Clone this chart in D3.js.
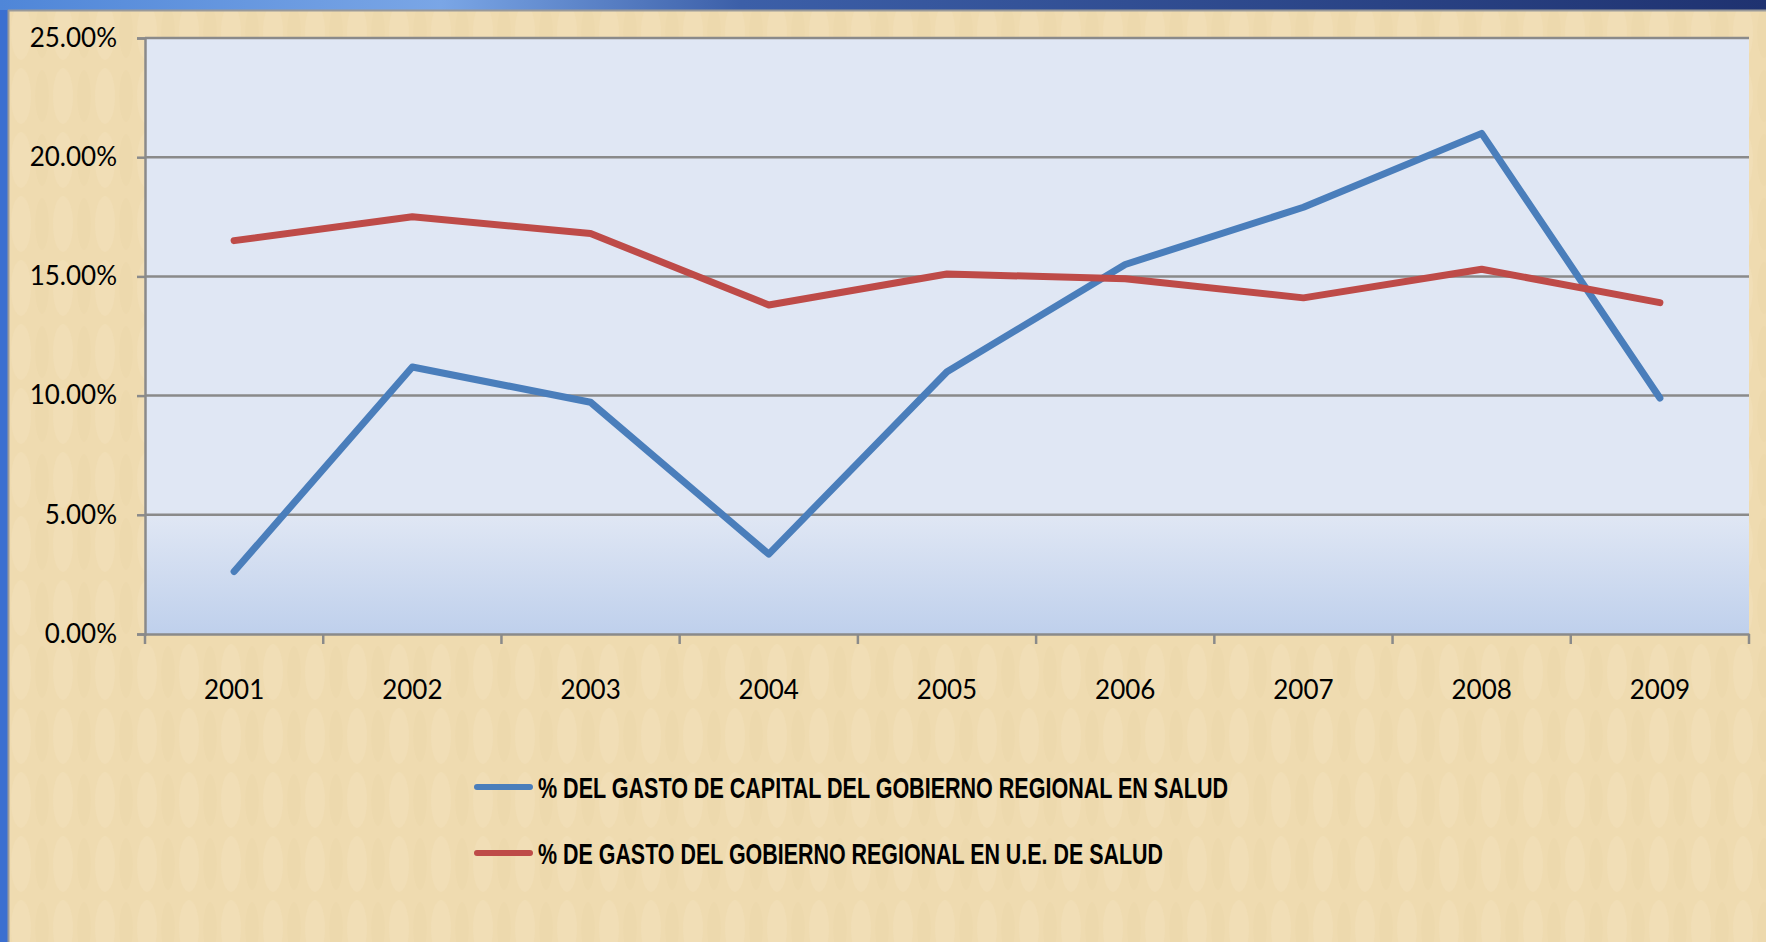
<!DOCTYPE html>
<html>
<head>
<meta charset="utf-8">
<script src="https://cdn.jsdelivr.net/npm/d3@7"></script>
<style>
  body { margin: 0; overflow: hidden; background: #efdcb0; }
  svg { display: block; }
</style>
</head>
<body>
<svg width="1766" height="942"></svg>
<script>
// data
var years = ["2001", "2002", "2003", "2004", "2005", "2006", "2007", "2008", "2009"];
var capitalSalud = [0.0262, 0.112, 0.0972, 0.0335, 0.110, 0.155, 0.179, 0.210, 0.099];
var gastoUESalud = [0.165, 0.175, 0.168, 0.138, 0.151, 0.149, 0.141, 0.153, 0.139];
var yTicks = [0, 0.05, 0.10, 0.15, 0.20, 0.25];
var seriesNames = ["% DEL GASTO DE CAPITAL DEL  GOBIERNO REGIONAL EN SALUD",
                   "% DE GASTO DEL GOBIERNO REGIONAL EN U.E. DE SALUD"];
var seriesColors = ["#4a7ebb", "#be4b48"];

var svg = d3.select("svg");
var defs = svg.append("defs");

// parchment texture
var pat = defs.append("pattern")
  .attr("id", "paper")
  .attr("patternUnits", "userSpaceOnUse")
  .attr("width", 42).attr("height", 64);
pat.append("rect").attr("width", 42).attr("height", 64).attr("fill", "#efdbb0");
pat.append("ellipse").attr("cx", 21).attr("cy", 32).attr("rx", 10).attr("ry", 28)
  .attr("fill", "#f4e3c0").attr("opacity", 0.35);
pat.append("ellipse").attr("cx", 0).attr("cy", 32).attr("rx", 7).attr("ry", 26)
  .attr("fill", "#e8d2a3").attr("opacity", 0.25);
pat.append("ellipse").attr("cx", 42).attr("cy", 32).attr("rx", 7).attr("ry", 26)
  .attr("fill", "#e8d2a3").attr("opacity", 0.25);

var topGrad = defs.append("linearGradient").attr("id", "topbar");
topGrad.append("stop").attr("offset", "0%").attr("stop-color", "#4f86d8");
topGrad.append("stop").attr("offset", "25%").attr("stop-color", "#7aa6e6");
topGrad.append("stop").attr("offset", "42%").attr("stop-color", "#3c5fa8");
topGrad.append("stop").attr("offset", "100%").attr("stop-color", "#1f3270");

var plotGrad = defs.append("linearGradient").attr("id", "plotbg")
  .attr("x1", 0).attr("y1", 0).attr("x2", 0).attr("y2", 1);
plotGrad.append("stop").attr("offset", "0%").attr("stop-color", "#e0e7f4");
plotGrad.append("stop").attr("offset", "80%").attr("stop-color", "#e0e7f4");
plotGrad.append("stop").attr("offset", "100%").attr("stop-color", "#bfd0ec");

// window background pieces
svg.append("rect").attr("width", 1766).attr("height", 942).attr("fill", "#3b6fd0");
svg.append("rect").attr("width", 1766).attr("height", 10).attr("fill", "url(#topbar)");
svg.append("rect").attr("x", 8).attr("y", 10).attr("width", 1758).attr("height", 932)
  .attr("fill", "url(#paper)");
svg.append("line").attr("x1", 8).attr("x2", 1766).attr("y1", 10.5).attr("y2", 10.5)
  .attr("stroke", "#9a9a9a").attr("stroke-width", 2);
svg.append("line").attr("x1", 8.5).attr("x2", 8.5).attr("y1", 10).attr("y2", 942)
  .attr("stroke", "#9a9a9a").attr("stroke-width", 2);

var plotLeft = 145, plotRight = 1749, plotTop = 38, plotBottom = 634;

var x = d3.scaleBand().domain(years).range([plotLeft, plotRight]);
var y = d3.scaleLinear().domain([0, 0.25]).range([plotBottom, plotTop]);

svg.append("rect")
  .attr("x", plotLeft).attr("y", plotTop)
  .attr("width", plotRight - plotLeft).attr("height", plotBottom - plotTop)
  .attr("fill", "url(#plotbg)");

// gridlines
svg.append("g")
  .selectAll("line")
  .data(yTicks.filter(function (d) { return d > 0; }))
  .join("line")
  .attr("x1", plotLeft).attr("x2", plotRight)
  .attr("y1", function (d) { return y(d); })
  .attr("y2", function (d) { return y(d); })
  .attr("stroke", "#8a8a8a")
  .attr("stroke-width", 2.5);

// y axis
var yAxis = d3.axisLeft(y)
  .tickValues(yTicks)
  .tickSize(8)
  .tickPadding(20)
  .tickFormat(d3.format(".2%"));

var yG = svg.append("g")
  .attr("transform", "translate(" + plotLeft + ",0)")
  .call(yAxis);
yG.select(".domain").attr("stroke", "#8a8a8a").attr("stroke-width", 2.5);
yG.selectAll(".tick line").attr("stroke", "#8a8a8a").attr("stroke-width", 2.5);
yG.selectAll("text")
  .attr("font-family", "Lato, 'Open Sans', sans-serif")
  .attr("font-size", 26)
  .attr("fill", "#000");

// x axis, ticks between the categories
var xAxis = d3.axisBottom(x).tickSize(0).tickPadding(0);
var xG = svg.append("g")
  .attr("transform", "translate(0," + plotBottom + ")")
  .call(xAxis);
xG.select(".domain").attr("stroke", "#8a8a8a").attr("stroke-width", 2.5);
xG.selectAll("text")
  .attr("font-family", "Lato, 'Open Sans', sans-serif")
  .attr("font-size", 26)
  .attr("fill", "#000")
  .attr("dy", "0.35em")
  .attr("y", 56);

var boundaries = years.map(function (d) { return x(d); }).concat([plotRight]);
xG.selectAll(".sep")
  .data(boundaries)
  .join("line")
  .attr("class", "sep")
  .attr("x1", function (d) { return d; })
  .attr("x2", function (d) { return d; })
  .attr("y1", 0).attr("y2", 10)
  .attr("stroke", "#8a8a8a")
  .attr("stroke-width", 2.5);

// lines
var line = d3.line()
  .x(function (d, i) { return x(years[i]) + x.bandwidth() / 2; })
  .y(function (d) { return y(d); });

[capitalSalud, gastoUESalud].forEach(function (s, k) {
  svg.append("path")
    .attr("d", line(s))
    .attr("fill", "none")
    .attr("stroke", seriesColors[k])
    .attr("stroke-width", 7)
    .attr("stroke-linejoin", "round")
    .attr("stroke-linecap", "round");
});

// legend
var legendY = [787, 853];
var legendW = [690, 625];
seriesNames.forEach(function (name, k) {
  svg.append("line")
    .attr("x1", 477).attr("x2", 530)
    .attr("y1", legendY[k]).attr("y2", legendY[k])
    .attr("stroke", seriesColors[k])
    .attr("stroke-width", 6)
    .attr("stroke-linecap", "round");
  svg.append("text")
    .attr("x", 538).attr("y", legendY[k])
    .attr("dy", "0.36em")
    .attr("font-family", "'Liberation Sans Narrow', 'Liberation Sans', Arial, sans-serif")
    .attr("font-weight", "bold")
    .attr("font-size", 30)
    .attr("textLength", legendW[k])
    .attr("lengthAdjust", "spacingAndGlyphs")
    .attr("fill", "#000")
    .text(name);
});
</script>
</body>
</html>
